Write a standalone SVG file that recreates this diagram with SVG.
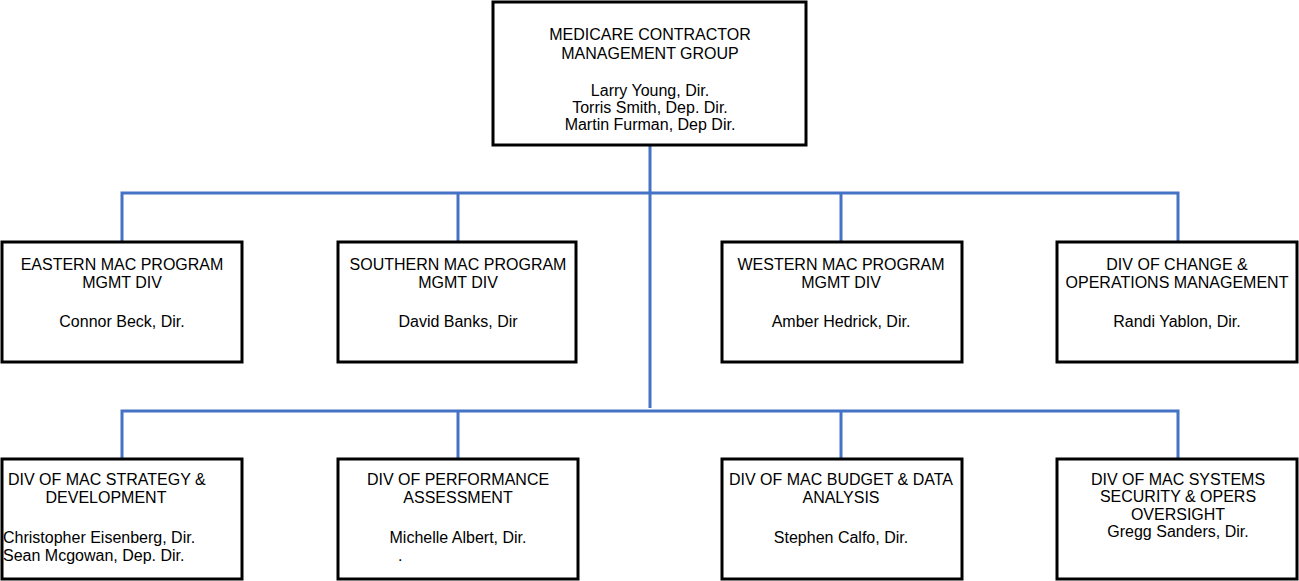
<svg xmlns="http://www.w3.org/2000/svg" width="1299" height="581" viewBox="0 0 1299 581">
<style>
.box{fill:#fff;stroke:#000;stroke-width:3}
.t{font-family:"Liberation Sans",Arial,sans-serif;font-size:16px;fill:#000;text-anchor:middle}
.tl{font-family:"Liberation Sans",Arial,sans-serif;font-size:16px;fill:#000}
.c{stroke:#4472C4;stroke-width:3;fill:none}
</style>
<rect width="1299" height="581" fill="#fff"/>
<g id="connectors">
<line class="c" x1="650" y1="145" x2="650" y2="408"/>
<polyline class="c" points="122,241 122,193 1178,193 1178,241"/>
<line class="c" x1="458" y1="193" x2="458" y2="241"/>
<line class="c" x1="841" y1="193" x2="841" y2="241"/>
<polyline class="c" points="122,458 122,411 1178,411 1178,458"/>
<line class="c" x1="458" y1="411" x2="458" y2="458"/>
<line class="c" x1="841" y1="411" x2="841" y2="458"/>
</g>
<g id="mcmg">
<rect class="box" x="493" y="2" width="313" height="143"/>
<text class="t" x="650" y="40">MEDICARE CONTRACTOR</text>
<text class="t" x="650" y="59">MANAGEMENT GROUP</text>
<text class="t" x="650" y="96">Larry Young, Dir.</text>
<text class="t" x="650" y="113">Torris Smith, Dep. Dir.</text>
<text class="t" x="650" y="130">Martin Furman, Dep Dir.</text>
</g>
<g id="eastern">
<rect class="box" x="2" y="242" width="240" height="120"/>
<text class="t" x="122" y="270">EASTERN MAC PROGRAM</text>
<text class="t" x="122" y="288">MGMT DIV</text>
<text class="t" x="122" y="327">Connor Beck, Dir.</text>
</g>
<g id="southern">
<rect class="box" x="338" y="242" width="238" height="120"/>
<text class="t" x="458" y="270">SOUTHERN MAC PROGRAM</text>
<text class="t" x="458" y="288">MGMT DIV</text>
<text class="t" x="458" y="327">David Banks, Dir</text>
</g>
<g id="western">
<rect class="box" x="722" y="242" width="240" height="120"/>
<text class="t" x="841" y="270">WESTERN MAC PROGRAM</text>
<text class="t" x="841" y="288">MGMT DIV</text>
<text class="t" x="841" y="327">Amber Hedrick, Dir.</text>
</g>
<g id="change">
<rect class="box" x="1057" y="242" width="240" height="120"/>
<text class="t" x="1177" y="270">DIV OF CHANGE &amp;</text>
<text class="t" x="1177" y="288">OPERATIONS MANAGEMENT</text>
<text class="t" x="1177" y="327">Randi Yablon, Dir.</text>
</g>
<g id="strategy">
<rect class="box" x="2" y="459" width="240" height="120"/>
<text class="tl" x="8" y="485">DIV OF MAC STRATEGY &amp;</text>
<text class="t" x="106" y="503">DEVELOPMENT</text>
<text class="tl" x="3" y="543">Christopher Eisenberg, Dir.</text>
<text class="tl" x="3" y="561">Sean Mcgowan, Dep. Dir.</text>
</g>
<g id="performance">
<rect class="box" x="338" y="459" width="240" height="120"/>
<text class="t" x="458" y="485">DIV OF PERFORMANCE</text>
<text class="t" x="458" y="503">ASSESSMENT</text>
<text class="t" x="458" y="543">Michelle Albert, Dir.</text>
<text class="tl" x="398" y="561">.</text>
</g>
<g id="budget">
<rect class="box" x="722" y="459" width="240" height="120"/>
<text class="t" x="841" y="485">DIV OF MAC BUDGET &amp; DATA</text>
<text class="t" x="841" y="503">ANALYSIS</text>
<text class="t" x="841" y="543">Stephen Calfo, Dir.</text>
</g>
<g id="systems">
<rect class="box" x="1057" y="459" width="240" height="120"/>
<text class="t" x="1178" y="485">DIV OF MAC SYSTEMS</text>
<text class="t" x="1178" y="502">SECURITY &amp; OPERS</text>
<text class="t" x="1178" y="520">OVERSIGHT</text>
<text class="t" x="1178" y="537">Gregg Sanders, Dir.</text>
</g>
</svg>
